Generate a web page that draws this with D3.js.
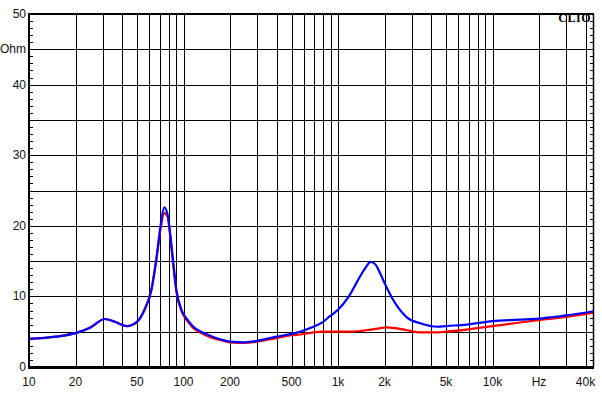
<!DOCTYPE html>
<html>
<head>
<meta charset="utf-8">
<script src="https://cdn.jsdelivr.net/npm/d3@7"></script>
<style>
  body { margin: 0; background: white; }
  text { font-family: Arial, "Liberation Sans", sans-serif; }
  text.logo { font-family: "Liberation Serif", "DejaVu Serif", serif; }
</style>
</head>
<body>
<svg id="chart" width="602" height="394"></svg>
<script>
// frequencies (Hz) shared by both curves
var freqs = [10, 15, 20, 25, 31, 36, 43, 50, 56, 62, 67, 71, 75, 79, 82, 86, 90, 97, 107, 116,
  130, 150, 175, 200, 250, 300, 400, 500, 568, 692, 800, 887, 1000, 1167, 1387, 1500, 1630,
  1750, 1870, 2050, 2350, 2800, 3400, 4400, 5000, 6800, 10000, 15000, 21000, 30000, 45000];

// impedance, Ohm
var redValues = [4.0, 4.3, 4.8, 5.6, 6.8, 6.4, 5.8, 6.4, 8.2, 11.0, 15.5, 19.5, 21.8, 21.3, 18.5, 14.2, 10.6, 7.9, 6.4, 5.5,
  4.8, 4.2, 3.8, 3.5, 3.4, 3.6, 4.1, 4.5, 4.6, 4.9, 5.0, 5.0, 5.0, 5.0, 5.1, 5.2, 5.3,
  5.4, 5.5, 5.6, 5.5, 5.2, 4.9, 4.9, 5.0, 5.3, 5.8, 6.3, 6.7, 7.1, 7.7];

var blueValues = [4.0, 4.3, 4.8, 5.6, 6.8, 6.4, 5.8, 6.4, 8.1, 10.9, 15.6, 20.0, 22.6, 21.5, 18.9, 14.7, 10.9, 8.1, 6.6, 5.7,
  5.0, 4.4, 3.9, 3.6, 3.5, 3.7, 4.3, 4.7, 5.0, 5.7, 6.4, 7.2, 8.1, 9.9, 12.8, 14.0, 14.9,
  14.5, 13.3, 11.4, 9.0, 7.0, 6.2, 5.7, 5.8, 6.0, 6.5, 6.7, 6.9, 7.3, 7.9];

var xTickValues = [10, 20, 50, 100, 200, 500, 1000, 2000, 5000, 10000, 20000, 40000];
var xTickLabels = ["10", "20", "50", "100", "200", "500", "1k", "2k", "5k", "10k", "Hz", "40k"];
var yTickValues = [0, 10, 20, 30, 40, 45, 50];
var yTickLabels = ["0", "10", "20", "30", "40", "Ohm", "50"];

const plotLeft = 29, plotRight = 593, plotTop = 14, plotBottom = 367;

const svg = d3.select("#chart");

const x = d3.scaleLog().domain([10, 44700]).range([plotLeft, plotRight]);
const y = d3.scaleLinear().domain([0, 50]).range([plotBottom, plotTop]);

// vertical grid: 1..9 per decade
var gridF = [];
for (let d = 10; d <= 10000; d *= 10) {
  for (let m = 1; m < 10; m++) {
    if (d * m > 10 && d * m < 44700) gridF.push(d * m);
  }
}
svg.append("g")
  .selectAll("line")
  .data(gridF)
  .enter()
  .append("line")
  .attr("x1", d => Math.round(x(d)) + 0.5)
  .attr("x2", d => Math.round(x(d)) + 0.5)
  .attr("y1", plotTop)
  .attr("y2", plotBottom)
  .attr("stroke", "black")
  .attr("stroke-width", 1);

// horizontal grid every 5 Ohm
svg.append("g")
  .selectAll("line")
  .data(d3.range(5, 50, 5))
  .enter()
  .append("line")
  .attr("x1", plotLeft)
  .attr("x2", plotRight)
  .attr("y1", d => Math.round(y(d)) + 0.5)
  .attr("y2", d => Math.round(y(d)) + 0.5)
  .attr("stroke", "black")
  .attr("stroke-width", 1);

// minor ticks every 1 Ohm on both sides
var minor = d3.range(1, 50).filter(d => d % 5 != 0);
svg.append("g")
  .selectAll("line")
  .data(minor)
  .enter()
  .append("line")
  .attr("x1", plotLeft)
  .attr("x2", plotLeft + 4)
  .attr("y1", d => Math.round(y(d)) + 0.5)
  .attr("y2", d => Math.round(y(d)) + 0.5)
  .attr("stroke", "black");
svg.append("g")
  .selectAll("line")
  .data(minor)
  .enter()
  .append("line")
  .attr("x1", plotRight - 3)
  .attr("x2", plotRight)
  .attr("y1", d => Math.round(y(d)) + 0.5)
  .attr("y2", d => Math.round(y(d)) + 0.5)
  .attr("stroke", "black");

// curves
const line = d3.line()
  .x(d => x(d[0]))
  .y(d => y(d[1]))
  .curve(d3.curveMonotoneX);

svg.append("path")
  .datum(freqs.map((f, i) => [f, redValues[i]]))
  .attr("d", line)
  .attr("fill", "none")
  .attr("stroke", "#ff0000")
  .attr("stroke-width", 2.2);

svg.append("path")
  .datum(freqs.map((f, i) => [f, blueValues[i]]))
  .attr("d", line)
  .attr("fill", "none")
  .attr("stroke", "#0000ff")
  .attr("stroke-width", 2.2);

// frame
svg.append("line").attr("x1", plotLeft - 1).attr("x2", plotRight + 1).attr("y1", plotTop).attr("y2", plotTop)
  .attr("stroke", "black").attr("stroke-width", 2);
svg.append("line").attr("x1", plotLeft - 1).attr("x2", plotRight + 1).attr("y1", plotBottom + 0.5).attr("y2", plotBottom + 0.5)
  .attr("stroke", "black").attr("stroke-width", 3);
svg.append("line").attr("x1", plotLeft).attr("x2", plotLeft).attr("y1", plotTop).attr("y2", plotBottom)
  .attr("stroke", "black").attr("stroke-width", 2);
svg.append("line").attr("x1", plotRight + 0.5).attr("x2", plotRight + 0.5).attr("y1", plotTop).attr("y2", plotBottom)
  .attr("stroke", "black").attr("stroke-width", 1.5);

// x labels
svg.append("g")
  .selectAll("text")
  .data(xTickValues)
  .enter()
  .append("text")
  .attr("x", d => x(d))
  .attr("y", 386)
  .attr("text-anchor", "middle")
  .attr("font-size", "12px")
  .attr("fill", "#111")
  .text((d, i) => xTickLabels[i]);

// y labels
svg.append("g")
  .selectAll("text")
  .data(yTickValues)
  .enter()
  .append("text")
  .attr("x", 26)
  .attr("y", d => y(d) + 4)
  .attr("text-anchor", "end")
  .attr("font-size", "12px")
  .attr("fill", "#111")
  .text((d, i) => yTickLabels[i]);

// logo
svg.append("text")
  .attr("class", "logo")
  .attr("x", 591)
  .attr("y", 22)
  .attr("text-anchor", "end")
  .attr("font-weight", "bold")
  .attr("font-size", "12px")
  .attr("letter-spacing", "0.5px")
  .text("CLIO");
</script>
</body>
</html>
